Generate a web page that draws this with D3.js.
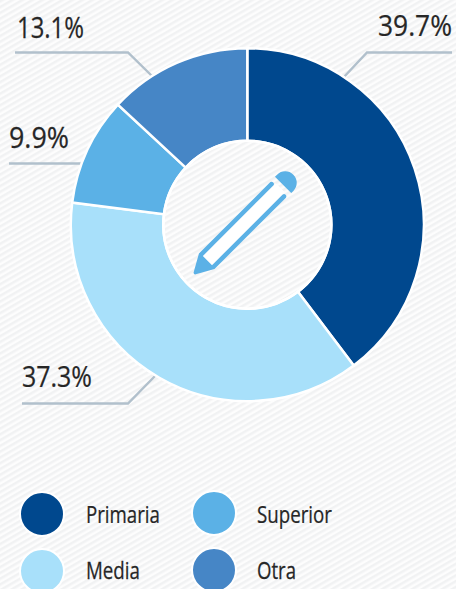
<!DOCTYPE html>
<html><head><meta charset="utf-8">
<script src="https://cdn.jsdelivr.net/npm/d3@7"></script>
<style>html,body{margin:0;padding:0;background:#fff}svg{display:block}text{font-family:"Open Sans",sans-serif;font-weight:500;fill:#262626;stroke:#262626;stroke-width:.25px}</style>
</head><body><svg id="c" width="456" height="589"></svg>
<script>
const categories=["Primaria","Media","Superior","Otra"];
const values=[39.7,37.3,9.9,13.1];
const labels=["39.7%","37.3%","9.9%","13.1%"];
const colors=["#00488e","#a8e0fa","#5bb1e6","#4686c6"];
const labelAnchor=[[378,36,74],[22,387,70],[9,148,60],[17,38,67]];
const legendAnchor=[[86,523,74],[86,579,54],[257,523,75],[257,579,39]];
const legendDots=[[42,514],[42,571],[214,513],[214,570]];
const leaders=[
 [[343,78],[367,52.5],[452,52.5]],
 [[156,375],[128,403.5],[22,403.5]],
 [[82,163.5],[9,163.5]],
 [[153,77],[128,52.5],[15,52.5]]
];
const W=456,H=589,cx=247.3,cy=224.7,R=176.5,r=84;
const svg=d3.select("#c");
const defs=svg.append("defs");
const p=defs.append("pattern").attr("id","st").attr("patternUnits","userSpaceOnUse").attr("width",5).attr("height",5).attr("patternTransform","rotate(-30)");
p.append("rect").attr("width",5).attr("height",5).attr("fill","#fdfdfd");
p.append("rect").attr("width",5).attr("height",2.5).attr("fill","#f1f2f3");
svg.append("rect").attr("width",W).attr("height",H).attr("fill","url(#st)");

const line=d3.line();
svg.selectAll("path.leader").data(leaders).join("path").attr("class","leader")
 .attr("d",d=>line(d)).attr("fill","none").attr("stroke","#b1c0cc").attr("stroke-width",2.4);

const pie=d3.pie().sort(null)(values);
const arc=d3.arc().innerRadius(r).outerRadius(R);
const g=svg.append("g").attr("transform",`translate(${cx},${cy})`);
g.selectAll("path").data(pie).join("path").attr("d",arc)
 .attr("fill",(d,i)=>colors[i]).attr("stroke","#fff").attr("stroke-width",2.5);
g.append("circle").attr("r",r).attr("fill","none").attr("stroke","#fff").attr("stroke-width",2.5);

// pencil icon, drawn along its own axis and turned 45 degrees
const blue="#5bb1e6";
const ic=svg.append("g").attr("transform","translate(243.5,224.5) rotate(45)");
ic.append("path").attr("d","M-11.5,-56 L11.5,-56 L11.5,-59 A11.5,11.5 0 0 0 -11.5,-59 Z").attr("fill",blue);
ic.append("rect").attr("x",-6.5).attr("y",-52).attr("width",13).attr("height",104).attr("fill","#fff");
ic.append("path").attr("d","M-11,-49 A2.3,2.3 0 0 1 -6.5,-49 L-6.5,51 L6.5,51 L6.5,-49 A2.3,2.3 0 0 1 11,-49 L11,52 L1.5,69 Q0,71 -1.5,69 L-11,52 Z").attr("fill",blue);

// condensed text: the installed fonts are wide, so each text is narrowed to the reference width
function narrow(sel,anchors){
  sel.attr("transform",function(d,i){
    const a=anchors[i],w=this.getComputedTextLength();
    return `translate(${a[0]},${a[1]}) scale(${a[2]/w},1)`;
  });
}
svg.selectAll("text.v").data(labels).join("text").attr("class","v")
 .attr("font-size",30).text(d=>d).call(narrow,labelAnchor);

const lg=svg.append("g").selectAll("g").data(categories).join("g");
lg.append("circle").attr("cx",(d,i)=>legendDots[i][0]).attr("cy",(d,i)=>legendDots[i][1]).attr("r",22)
 .attr("fill",(d,i)=>colors[i]).attr("stroke","#fff").attr("stroke-width",2);
lg.append("text").attr("font-size",23).text(d=>d).call(narrow,legendAnchor);
</script></body></html>
